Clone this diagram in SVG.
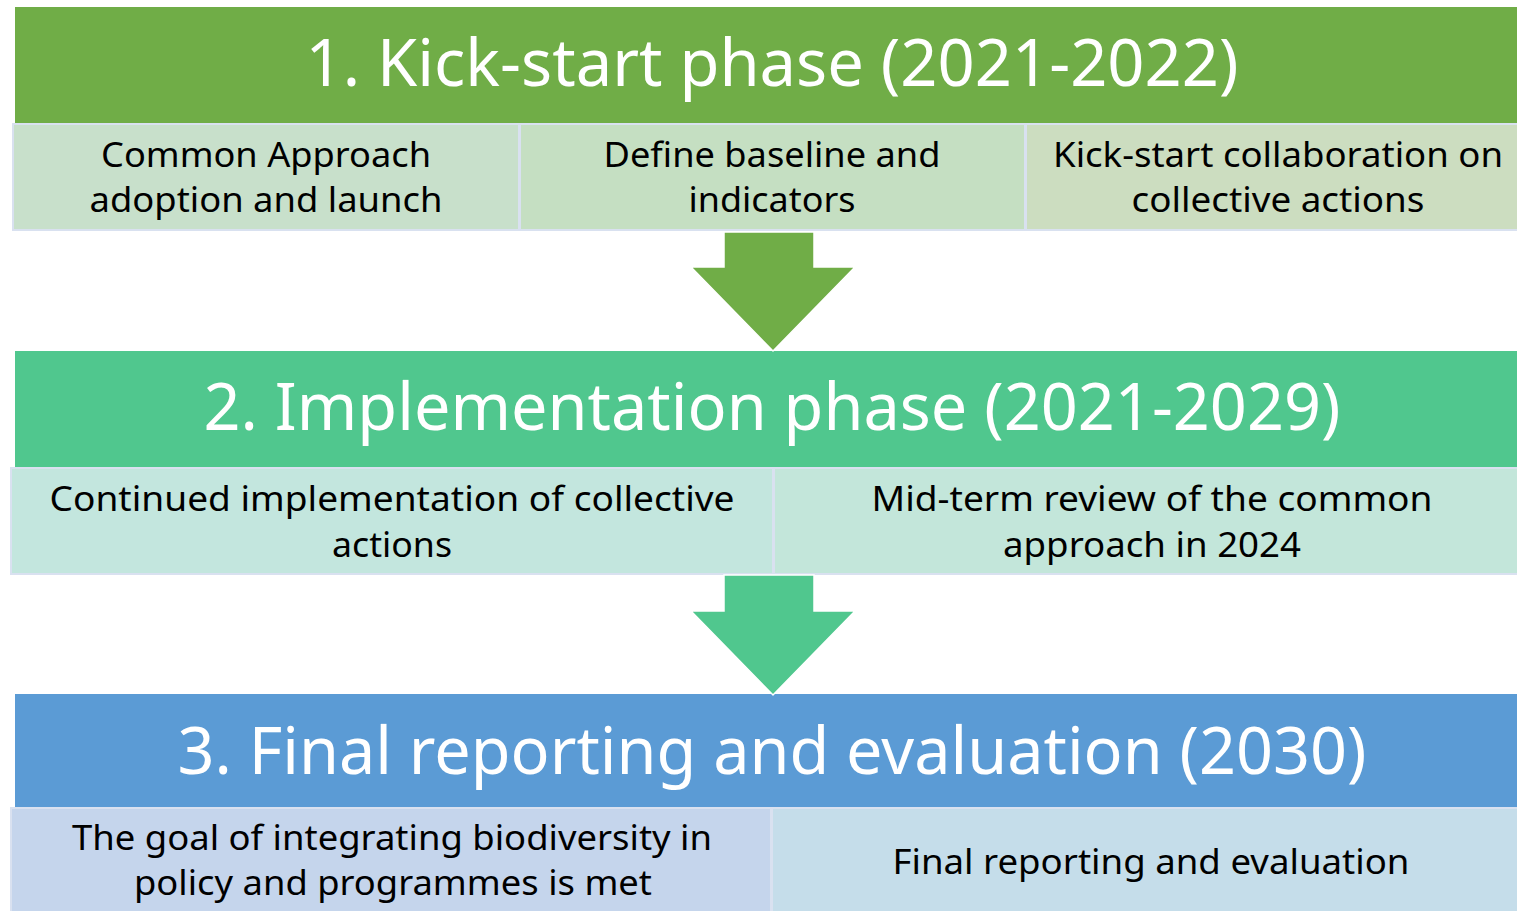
<svg xmlns="http://www.w3.org/2000/svg" width="1517" height="911" viewBox="0 0 1517 911">
<style>
.hdr{font-family:"Noto Sans","Open Sans",sans-serif;font-size:66px;fill:#fff;text-anchor:middle}
.cell{font-family:"Noto Sans","Open Sans",sans-serif;font-size:35px;fill:#000;text-anchor:middle}
.cb{stroke:#D9E1F0;stroke-width:2}
.arrow{stroke:#fff;stroke-width:1.5;stroke-linejoin:miter}
</style>
<rect width="1517" height="911" fill="#fff"/>
<g id="phase1">
<rect x="15" y="7" width="1502" height="117" fill="#70AD47"/>
<text class="hdr" x="772" y="86" textLength="933" lengthAdjust="spacingAndGlyphs">1. Kick-start phase (2021-2022)</text>
</g>
<g id="p1a">
<rect class="cb" x="13" y="124" width="506" height="106" fill="#C8E0CB"/>
<text class="cell" x="266" y="167" textLength="330" lengthAdjust="spacingAndGlyphs">Common Approach</text>
<text class="cell" x="266" y="212" textLength="353" lengthAdjust="spacingAndGlyphs">adoption and launch</text>
</g>
<g id="p1b">
<rect class="cb" x="520" y="124" width="505" height="106" fill="#C5DFC2"/>
<text class="cell" x="772" y="167" textLength="337" lengthAdjust="spacingAndGlyphs">Define baseline and</text>
<text class="cell" x="772" y="212" textLength="167" lengthAdjust="spacingAndGlyphs">indicators</text>
</g>
<g id="p1c">
<rect class="cb" x="1026" y="124" width="492" height="106" fill="#CCDDC0"/>
<text class="cell" x="1278" y="167" textLength="450" lengthAdjust="spacingAndGlyphs">Kick-start collaboration on</text>
<text class="cell" x="1278" y="212" textLength="293" lengthAdjust="spacingAndGlyphs">collective actions</text>
</g>
<g id="phase2">
<rect x="15" y="351" width="1502" height="117" fill="#50C78E"/>
<text class="hdr" x="772" y="430" textLength="1137" lengthAdjust="spacingAndGlyphs">2. Implementation phase (2021-2029)</text>
</g>
<g id="p2a">
<rect class="cb" x="11" y="468" width="762" height="106" fill="#C3E6DE"/>
<text class="cell" x="392" y="511" textLength="685" lengthAdjust="spacingAndGlyphs">Continued implementation of collective</text>
<text class="cell" x="392" y="557" textLength="120" lengthAdjust="spacingAndGlyphs">actions</text>
</g>
<g id="p2b">
<rect class="cb" x="774" y="468" width="744" height="106" fill="#C3E6DA"/>
<text class="cell" x="1152" y="511" textLength="561" lengthAdjust="spacingAndGlyphs">Mid-term review of the common</text>
<text class="cell" x="1152" y="557" textLength="298" lengthAdjust="spacingAndGlyphs">approach in 2024</text>
</g>
<g id="phase3">
<rect x="15" y="694" width="1502" height="114" fill="#5B9BD5"/>
<text class="hdr" x="772" y="774" textLength="1189" lengthAdjust="spacingAndGlyphs">3. Final reporting and evaluation (2030)</text>
</g>
<g id="p3a">
<rect class="cb" x="11" y="808" width="760" height="104" fill="#C5D5EC"/>
<text class="cell" x="392" y="850" textLength="640" lengthAdjust="spacingAndGlyphs">The goal of integrating biodiversity in</text>
<text class="cell" x="393" y="895" textLength="518" lengthAdjust="spacingAndGlyphs">policy and programmes is met</text>
</g>
<g id="p3b">
<rect class="cb" x="772" y="808" width="746" height="104" fill="#C5DDEA"/>
<text class="cell" x="1151" y="874" textLength="517" lengthAdjust="spacingAndGlyphs">Final reporting and evaluation</text>
</g>
<g id="connectors">
<polygon class="arrow" points="724,232 814,232 814,267 855,267 773,351 691,267 724,267" fill="#70AD47"/>
<polygon class="arrow" points="724,575 814,575 814,611 855,611 773,695 691,611 724,611" fill="#50C78E"/>
</g>
</svg>
